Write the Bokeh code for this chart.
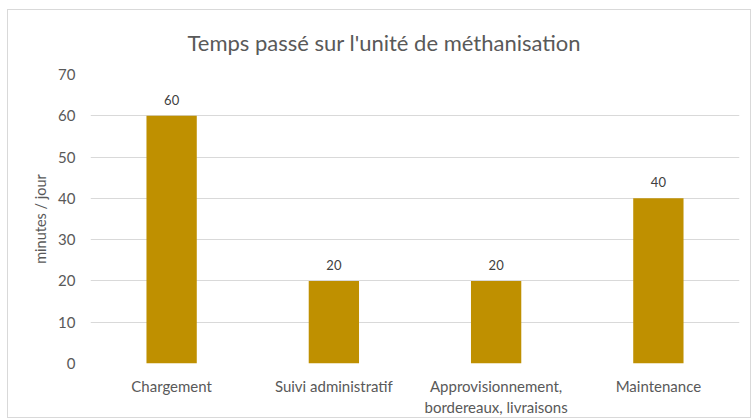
from bokeh.plotting import figure
from bokeh.models import FactorRange, Range1d, FixedTicker, ColumnDataSource
from bokeh.core.properties import value
from bokeh.embed import file_html
from bokeh.resources import INLINE

categories = ["Chargement", "Suivi administratif", "Approvisionnement,\nbordereaux, livraisons", "Maintenance"]
minutes = [60, 20, 20, 40]
y_ticks = [0, 10, 20, 30, 40, 50, 60, 70]
title_text = "Temps passé sur l'unité de méthanisation"
y_label = "minutes / jour"

FONT = "Lato"
GREY = "#595959"

src = ColumnDataSource(dict(cat=categories, val=minutes, lab=[str(v) for v in minutes]))

p = figure(width=744, height=409, x_range=FactorRange(*categories, range_padding=0),
           y_range=Range1d(0, 70), output_backend="svg", toolbar_location=None,
           min_border_left=82, min_border_right=13, min_border_top=64, min_border_bottom=55)
p.styles = {"border": "1px solid #d9d9d9", "margin-left": "7px", "margin-top": "9px"}
p.x_range.factor_padding = 0

p.vbar(x="cat", top="val", width=0.31, source=src, fill_color="#BF9000", line_color=None)
p.text(x="cat", y="val", text="lab", source=src, text_align="center", text_baseline="bottom",
       y_offset=-11, text_font=value(FONT), text_font_size="13px", text_color="#404040")

p.title.text = title_text
p.title.align = "left"
p.title.vertical_align = "top"
p.title.text_font = FONT
p.title.text_font_size = "22px"
p.title.text_font_style = "normal"
p.title.text_color = GREY
p.title.offset = 97
p.title.standoff = 34

p.outline_line_color = None
p.xgrid.grid_line_color = None
p.ygrid.grid_line_color = "#d9d9d9"
p.ygrid.grid_line_width = 1

p.yaxis.ticker = FixedTicker(ticks=y_ticks)
p.yaxis.axis_label = y_label
for ax in (p.xaxis, p.yaxis):
    ax.axis_line_color = None
    ax.major_tick_line_color = None
    ax.minor_tick_line_color = None
    ax.major_label_text_font = FONT
    ax.major_label_text_font_size = "15px"
    ax.major_label_text_color = GREY
    ax.axis_label_text_font = FONT
    ax.axis_label_text_font_size = "14.5px"
    ax.axis_label_text_font_style = "normal"
    ax.axis_label_text_color = GREY
p.yaxis.major_label_standoff = 9
p.yaxis.axis_label_standoff = 6
p.xaxis.major_label_standoff = 7

open("out.html", "w").write(file_html(p, INLINE))
